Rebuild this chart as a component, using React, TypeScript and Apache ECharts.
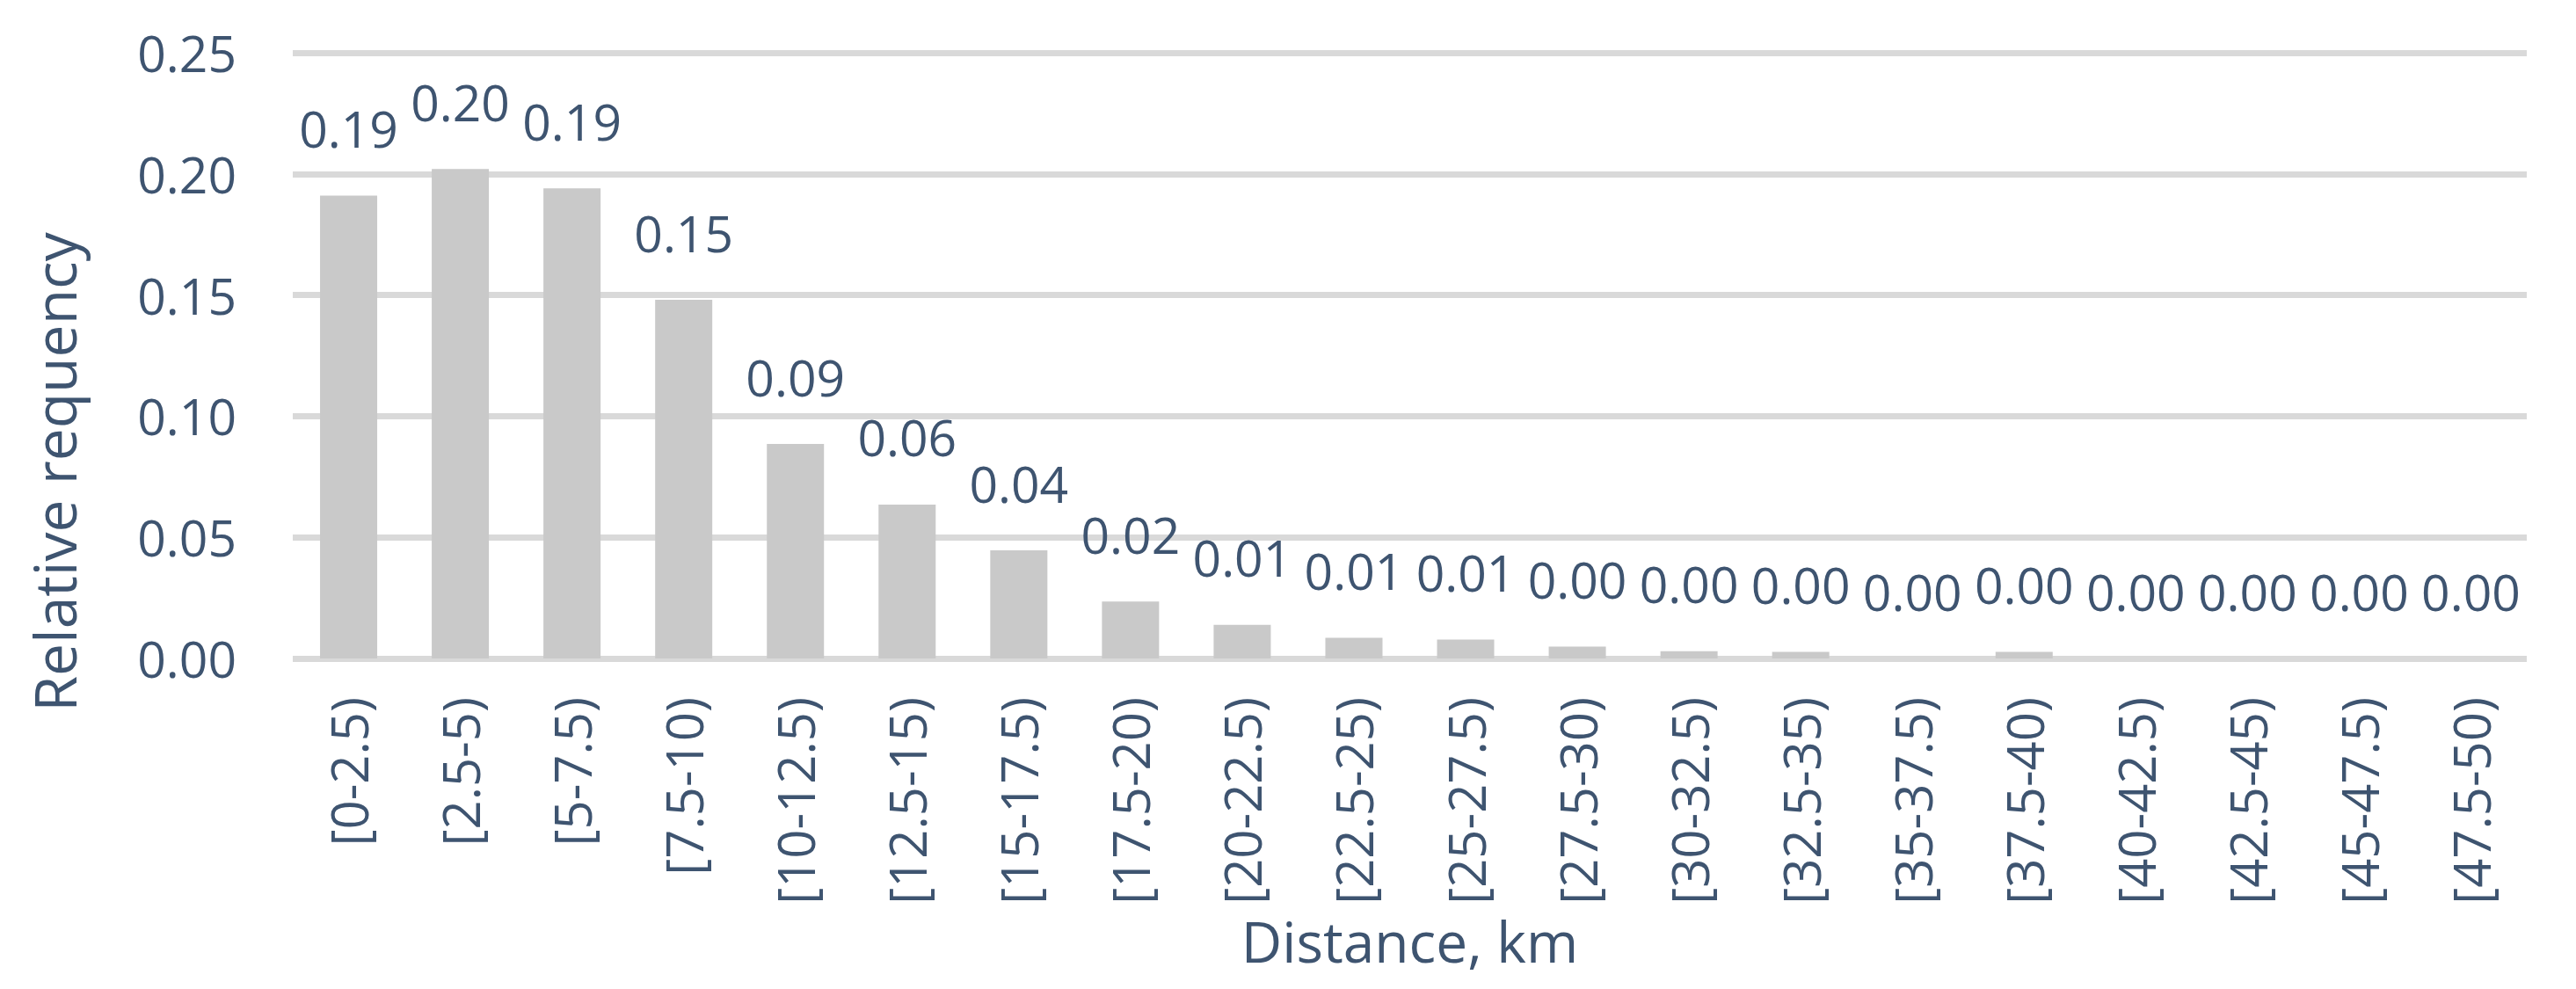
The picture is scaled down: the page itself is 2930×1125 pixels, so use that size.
import React, { useEffect, useRef } from "react";
import * as echarts from "echarts";

const categories = [
  "[0-2.5)", "[2.5-5)", "[5-7.5)", "[7.5-10)", "[10-12.5)", "[12.5-15)", "[15-17.5)",
  "[17.5-20)", "[20-22.5)", "[22.5-25)", "[25-27.5)", "[27.5-30)", "[30-32.5)",
  "[32.5-35)", "[35-37.5)", "[37.5-40)", "[40-42.5)", "[42.5-45)", "[45-47.5)", "[47.5-50)",
];
const frequencies = [
  0.191, 0.202, 0.194, 0.148, 0.0885, 0.0635, 0.0446, 0.0235, 0.0139, 0.0085,
  0.0078, 0.0049, 0.003, 0.0027, 0.0, 0.0027, 0.0, 0.0, 0.0, 0.0,
];
const yTicks = { min: 0, max: 0.25, interval: 0.05 };
const xAxisTitle = "Distance, km";
const yAxisTitle = "Relative requency";

const TEXT = "#3E5470";
const FONT = "Open Sans";

export default function App() {
  const ref = useRef<HTMLDivElement>(null);
  useEffect(() => {
    if (!ref.current) return;
    const chart = echarts.init(ref.current, undefined, { renderer: "svg" });
    chart.setOption({
      animation: false,
      backgroundColor: "#ffffff",
      grid: { left: 333, right: 56, top: 60, bottom: 376, containLabel: false },
      xAxis: {
        type: "category",
        data: categories,
        axisLine: { show: false },
        axisTick: { show: false },
        axisLabel: {
          interval: 0,
          rotate: 90,
          margin: 44,
          color: TEXT,
          fontFamily: FONT,
          fontSize: 58,
        },
        name: xAxisTitle,
        nameLocation: "middle",
        nameGap: 289,
        nameTextStyle: { color: TEXT, fontFamily: FONT, fontSize: 64 },
      },
      yAxis: {
        type: "value",
        min: yTicks.min,
        max: yTicks.max,
        interval: yTicks.interval,
        axisLine: { show: false },
        axisTick: { show: false },
        splitLine: { lineStyle: { color: "#D9D9D9", width: 7 } },
        axisLabel: {
          margin: 64,
          color: TEXT,
          fontFamily: FONT,
          fontSize: 57,
          formatter: (v: number) => v.toFixed(2),
        },
      },
      graphic: [
        {
          type: "text",
          x: 61,
          y: 537,
          rotation: Math.PI / 2,
          style: {
            text: yAxisTitle,
            fill: TEXT,
            font: `66px "${FONT}"`,
            align: "center",
            verticalAlign: "middle",
          },
        },
      ],
      series: [
        {
          type: "bar",
          data: frequencies,
          barWidth: 65,
          itemStyle: { color: "#C9C9C9" },
          label: {
            show: true,
            position: "top",
            distance: 48,
            color: TEXT,
            fontFamily: FONT,
            fontSize: 57,
            formatter: (p: any) => Number(p.value).toFixed(2),
          },
        },
      ],
    });
    return () => chart.dispose();
  }, []);
  return (
    <div
      ref={ref}
      style={{ position: "fixed", left: 0, top: 0, width: 2930, height: 1125 }}
    />
  );
}
